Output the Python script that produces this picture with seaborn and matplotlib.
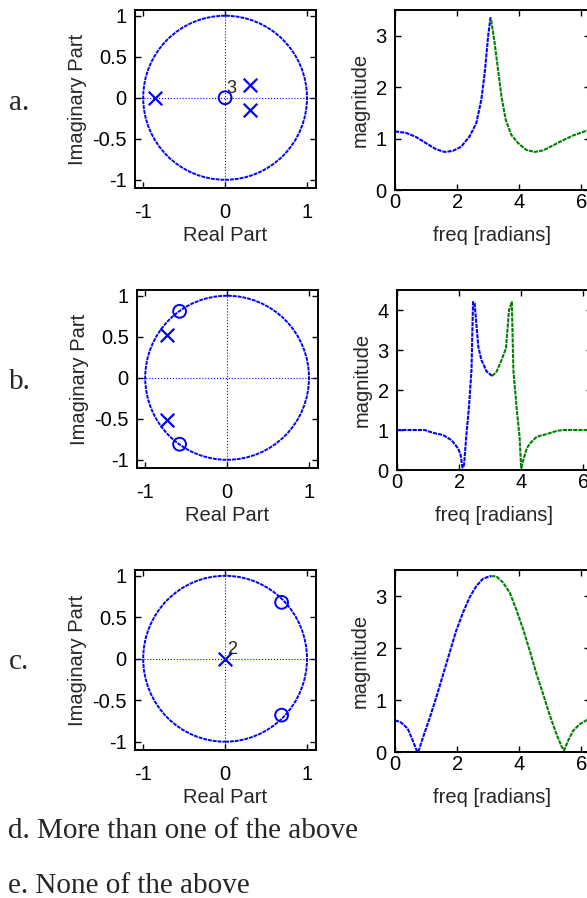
import numpy as np
import pandas as pd
import seaborn as sns
import matplotlib
matplotlib.use("Agg")
import matplotlib.pyplot as plt
from matplotlib.patches import Circle

# ---- pole/zero locations ----
a_zero_re = [0.0]
a_zero_im = [0.0]
a_pole_re = [-0.85, 0.31, 0.31]
a_pole_im = [0.0, 0.15, -0.15]

b_zero_re = [-0.58, -0.58]
b_zero_im = [0.81, -0.81]
b_pole_re = [-0.73, -0.73]
b_pole_im = [0.52, -0.52]

c_zero_re = [0.69, 0.69]
c_zero_im = [0.68, -0.68]
c_pole_re = [0.0]
c_pole_im = [0.0]

# ---- magnitude responses (blue: 0..pi, green: pi..2pi) ----
a_w_lo = [0, 0.36, 0.68, 1.0, 1.33, 1.6, 1.86, 2.13, 2.4, 2.62, 2.78, 2.89, 3.0, 3.08]
a_m_lo = [1.14, 1.11, 1.03, 0.91, 0.79, 0.74, 0.76, 0.84, 1.04, 1.30, 1.75, 2.27, 2.99, 3.36]
a_w_hi = [3.1, 3.21, 3.32, 3.43, 3.57, 3.75, 3.97, 4.23, 4.5, 4.77, 5.1, 5.42, 5.74, 6.2]
a_m_hi = [3.3, 2.86, 2.34, 1.82, 1.36, 1.07, 0.91, 0.78, 0.74, 0.77, 0.87, 0.97, 1.06, 1.16]

b_w_lo = [0, 0.89, 1.16, 1.48, 1.75, 1.97, 2.05, 2.11, 2.16, 2.24, 2.32, 2.4, 2.45, 2.5,
          2.62, 2.72, 2.89, 3.07]
b_m_lo = [1.0, 1.0, 0.93, 0.875, 0.75, 0.54, 0.375, 0.06, 0.12, 0.92, 1.58, 2.5, 4.2, 4.17,
          3.08, 2.75, 2.46, 2.35]
b_w_hi = [3.07, 3.21, 3.37, 3.51, 3.61, 3.7, 3.75, 3.86, 3.95, 4.0, 4.05, 4.18, 4.29, 4.5,
          4.83, 5.16, 5.37, 6.25]
b_m_hi = [2.35, 2.46, 2.75, 3.04, 4.0, 4.2, 2.5, 1.5, 0.83, 0.05, 0.2, 0.54, 0.67, 0.83,
          0.9, 0.98, 1.0, 1.0]

c_w_lo = [0, 0.19, 0.41, 0.57, 0.7, 0.75, 0.89, 1.11, 1.33, 1.54, 1.76, 1.97, 2.19, 2.4,
          2.62, 2.83, 3.05, 3.1]
c_m_lo = [0.61, 0.57, 0.45, 0.22, 0.03, 0.0, 0.26, 0.64, 1.05, 1.47, 1.91, 2.33, 2.68, 2.97,
          3.19, 3.33, 3.38, 3.38]
c_w_hi = [3.1, 3.26, 3.48, 3.7, 3.91, 4.13, 4.34, 4.56, 4.77, 4.99, 5.2, 5.37, 5.45, 5.58,
          5.74, 5.96, 6.2]
c_m_hi = [3.38, 3.38, 3.26, 3.06, 2.74, 2.36, 1.95, 1.5, 1.12, 0.70, 0.35, 0.1, 0.03, 0.22,
          0.41, 0.54, 0.62]

pz_ticks = [-1, -0.5, 0, 0.5, 1]
pz_tick_labels = ['-1', '-0.5', '0', '0.5', '1']
pz_xticks = [-1, 0, 1]
pz_xtick_labels = ['-1', '0', '1']
mag_xticks = [0, 2, 4, 6]

BLUE = '#0000ff'
GREEN = '#008000'
DOTS = (0, (2.0, 0.5))

sns.set_style('ticks')
plt.rcParams['font.family'] = ['Liberation Sans', 'DejaVu Sans']
plt.rcParams['axes.unicode_minus'] = False

W, H = 587, 898
fig = plt.figure(figsize=(W / 100, H / 100), dpi=100)


def add_ax(l, t, r, b):
    return fig.add_axes([l / W, 1 - b / H, (r - l) / W, (b - t) / H])


def style_ax(ax, xpad):
    ax.tick_params(direction='in', top=True, right=True, length=4, width=1,
                   labelsize=14.5, pad=6, colors='black')
    ax.tick_params(axis='x', pad=xpad)
    for s in ax.spines.values():
        s.set_linewidth(1.4)
        s.set_color('black')
        s.set_visible(True)


def pz_plot(ax, zr, zi, pr, pi_, zlabel=None, plabel=None):
    ax.axhline(0, color=BLUE, lw=0.8, ls=':')
    ax.axvline(0, color=BLUE, lw=0.8, ls=':')
    ax.add_patch(Circle((0, 0), 1.0, fill=False, edgecolor=BLUE, lw=1.4, ls=DOTS))
    sns.scatterplot(x=zr, y=zi, ax=ax, marker='o', s=85, facecolor='none',
                    edgecolor=BLUE, color=BLUE, linewidth=1.4, zorder=3)
    sns.scatterplot(x=pr, y=pi_, ax=ax, marker='x', s=95, color=BLUE,
                    linewidth=1.6, zorder=3)
    if zlabel:
        ax.text(zr[0] + 0.02, zi[0] + 0.06, zlabel, fontsize=13, ha='left', va='baseline')
    if plabel:
        ax.text(pr[0] + 0.02, pi_[0] + 0.06, plabel, fontsize=13, ha='left', va='baseline')
    ax.set_xlim(-1.1, 1.11)
    ax.set_ylim(-1.1, 1.07)
    ax.set_xticks(pz_xticks)
    ax.set_xticklabels(pz_xtick_labels)
    ax.set_yticks(pz_ticks)
    ax.set_yticklabels(pz_tick_labels)
    ax.set_xlabel('Real Part', fontsize=14.5, labelpad=3)
    ax.set_ylabel('Imaginary Part', fontsize=14.5, labelpad=4)
    style_ax(ax, 11)


def mag_plot(ax, wl, ml, wh, mh, ymax, yticks):
    lo = pd.DataFrame({'w': wl, 'm': ml})
    hi = pd.DataFrame({'w': wh, 'm': mh})
    sns.lineplot(data=lo, x='w', y='m', ax=ax, color=BLUE, lw=1.5, ls=DOTS)
    sns.lineplot(data=hi, x='w', y='m', ax=ax, color=GREEN, lw=1.5, ls=DOTS)
    ax.set_xlim(0, 2 * np.pi)
    ax.set_ylim(0, ymax)
    ax.set_xticks(mag_xticks)
    ax.set_yticks(yticks)
    ax.set_xlabel('freq [radians]', fontsize=14.5, labelpad=10)
    ax.set_ylabel('magnitude', fontsize=14.5, labelpad=4)
    style_ax(ax, 2.5)


ax = add_ax(135, 10, 316, 188)
pz_plot(ax, a_zero_re, a_zero_im, a_pole_re, a_pole_im, zlabel='3')
ax = add_ax(395, 10, 590, 190)
mag_plot(ax, a_w_lo, a_m_lo, a_w_hi, a_m_hi, 3.5, [0, 1, 2, 3])

ax = add_ax(137, 290, 318, 468)
pz_plot(ax, b_zero_re, b_zero_im, b_pole_re, b_pole_im)
ax = add_ax(397, 290, 592, 470)
mag_plot(ax, b_w_lo, b_m_lo, b_w_hi, b_m_hi, 4.5, [0, 1, 2, 3, 4])

ax = add_ax(135, 570, 316, 750)
pz_plot(ax, c_zero_re, c_zero_im, c_pole_re, c_pole_im, plabel='2')
ax = add_ax(395, 570, 590, 752)
mag_plot(ax, c_w_lo, c_m_lo, c_w_hi, c_m_hi, 3.5, [0, 1, 2, 3])

serif = ['Liberation Serif', 'DejaVu Serif']
for lab, base in [('a.', 110), ('b.', 389), ('c.', 669)]:
    fig.text(9 / W, 1 - base / H, lab, family=serif, fontsize=21, va='baseline')
fig.text(8 / W, 1 - 838 / H, 'd. More than one of the above', family=serif,
         fontsize=21, va='baseline')
fig.text(8 / W, 1 - 893 / H, 'e. None of the above', family=serif,
         fontsize=21, va='baseline')

fig.savefig('out.png', dpi=100)
